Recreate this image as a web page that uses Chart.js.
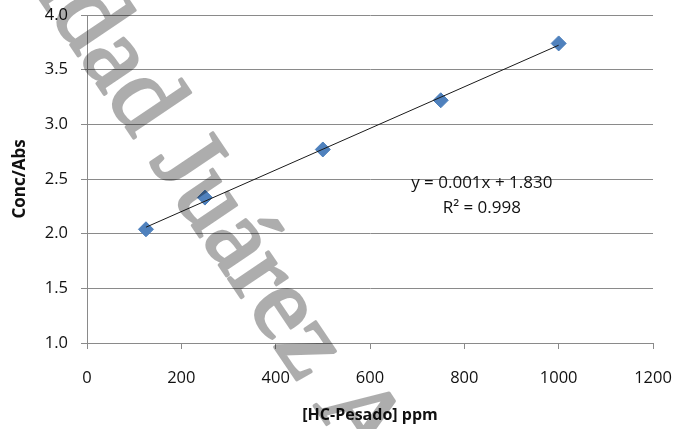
<!DOCTYPE html>
<html>
<head>
<meta charset="utf-8">
<script src="https://cdn.jsdelivr.net/npm/chart.js@4/dist/chart.umd.min.js"></script>
<style>
  html, body { margin: 0; padding: 0; background: #ffffff; }
  canvas { display: block; }
</style>
</head>
<body>
<canvas id="c" width="675" height="429"></canvas>
<script>
// ---- data ----
const concentrations = [125, 250, 500, 750, 1000];        // [HC-Pesado] ppm
const concPerAbs     = [2.04, 2.33, 2.77, 3.22, 3.74];    // Conc/Abs
const xTickValues    = [0, 200, 400, 600, 800, 1000, 1200];
const yTickValues    = [1.0, 1.5, 2.0, 2.5, 3.0, 3.5, 4.0];
const equationText   = 'y = 0.001x + 1.830';
const r2Text         = 'R\u00B2 = 0.998';
const xTitle         = '[HC-Pesado] ppm';
const yTitle         = 'Conc/Abs';
const watermarkText  = 'Universidad Juárez Autónoma de Tabasco';

// least-squares trendline through the data (as the spreadsheet trendline)
function fit(xs, ys) {
  const n = xs.length;
  const mx = xs.reduce((a, b) => a + b, 0) / n;
  const my = ys.reduce((a, b) => a + b, 0) / n;
  let sxy = 0, sxx = 0;
  for (let i = 0; i < n; i++) { sxy += (xs[i] - mx) * (ys[i] - my); sxx += (xs[i] - mx) ** 2; }
  const m = sxy / sxx;
  return { m, b: my - m * mx };
}
const tl = fit(concentrations, concPerAbs);
const xMinData = Math.min(...concentrations), xMaxData = Math.max(...concentrations);
const trendPoints = [xMinData, xMaxData].map(x => ({ x, y: tl.m * x + tl.b }));
const scatterPoints = concentrations.map((x, i) => ({ x, y: concPerAbs[i] }));

const gridColor = '#8a8a8a';
const textColor = '#111111';
const FONT = '"Open Sans", "Liberation Sans", sans-serif';

const annotationPlugin = {
  id: 'annot',
  afterDatasetsDraw(chart) {
    const { ctx, scales } = chart;
    ctx.save();
    ctx.fillStyle = textColor;
    ctx.font = '17px ' + FONT;
    ctx.textAlign = 'center';
    ctx.textBaseline = 'middle';
    const cx = scales.x.getPixelForValue(837);
    ctx.fillText(equationText, cx, scales.y.getPixelForValue(2.464));
    ctx.fillText(r2Text, cx, scales.y.getPixelForValue(2.236));
    ctx.restore();
  }
};

const watermarkPlugin = {
  id: 'watermark',
  afterDraw(chart) {
    const { ctx, width, height } = chart;
    const off = document.createElement('canvas');
    off.width = width; off.height = height;
    const o = off.getContext('2d');
    o.font = '105px "Liberation Serif", "DejaVu Serif", serif';
    const lead = o.measureText('Universidad ').width;
    o.translate(149, 161);
    o.rotate(56 * Math.PI / 180);
    o.fillStyle = '#000';
    o.strokeStyle = '#000';
    o.lineWidth = 3;
    o.lineJoin = 'round';
    o.textBaseline = 'alphabetic';
    o.textAlign = 'left';
    o.fillText(watermarkText, -lead, 0);
    o.strokeText(watermarkText, -lead, 0);
    ctx.save();
    ctx.globalAlpha = 0.32;
    ctx.drawImage(off, 0, 0);
    ctx.restore();
  }
};

new Chart(document.getElementById('c'), {
  data: {
    datasets: [
      {
        type: 'line',
        label: 'Trendline',
        data: trendPoints,
        borderColor: '#1a1a1a',
        borderWidth: 1,
        pointRadius: 0,
        fill: false,
        tension: 0
      },
      {
        type: 'scatter',
        label: 'Conc/Abs',
        data: scatterPoints,
        pointStyle: 'rectRot',
        pointRadius: 7.5,
        pointHoverRadius: 7.5,
        backgroundColor: '#4F81BD',
        borderColor: '#4A7EBB',
        borderWidth: 1
      }
    ]
  },
  options: {
    responsive: false,
    devicePixelRatio: 1,
    animation: false,
    events: [],
    layout: { padding: { top: 15, right: 22, left: 0, bottom: 0 } },
    plugins: { legend: { display: false }, tooltip: { enabled: false } },
    scales: {
      x: {
        type: 'linear',
        min: 0, max: 1200,
        afterBuildTicks(s) { s.ticks = xTickValues.map(v => ({ value: v })); },
        afterFit(s) { s.height = 86; s.paddingLeft = 0; s.paddingRight = 0; },
        grid: { drawOnChartArea: false, drawTicks: true, tickLength: 6, color: gridColor },
        border: { display: true, color: gridColor, width: 1 },
        ticks: { color: textColor, font: { family: FONT, size: 16.5 }, padding: 19, maxRotation: 0, autoSkip: false, callback: v => String(v) },
        title: { display: true, text: xTitle, color: textColor, font: { family: FONT, size: 16, weight: 'bold' }, padding: { top: 0, bottom: 4 } }
      },
      y: {
        type: 'linear',
        min: 1, max: 4,
        afterBuildTicks(s) { s.ticks = yTickValues.map(v => ({ value: v })); },
        afterFit(s) { s.width = 87; s.paddingTop = 0; s.paddingBottom = 0; },
        grid: { drawOnChartArea: true, drawTicks: true, tickLength: 6, color: gridColor },
        border: { display: true, color: gridColor, width: 1 },
        ticks: { color: textColor, font: { family: FONT, size: 16.5 }, padding: 13, callback: v => Number(v).toFixed(1) },
        title: { display: true, text: yTitle, color: textColor, font: { family: FONT, size: 17, weight: 'bold' }, padding: { top: 10, bottom: 0 } }
      }
    }
  },
  plugins: [annotationPlugin, watermarkPlugin]
});
</script>
</body>
</html>
